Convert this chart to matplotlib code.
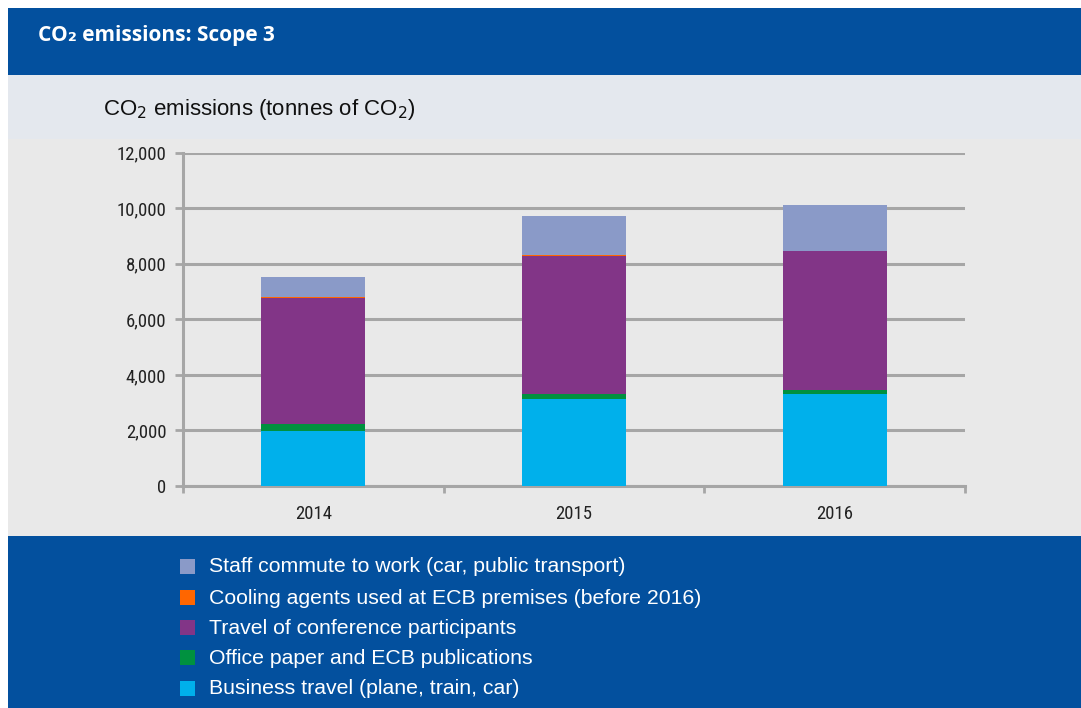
import matplotlib
matplotlib.use("Agg")
import matplotlib.pyplot as plt
from matplotlib.patches import Rectangle
from matplotlib import font_manager as fm
from matplotlib.ticker import FuncFormatter, FixedLocator

years = ["2014", "2015", "2016"]
series_names = [
    "Business travel (plane, train, car)",
    "Office paper and ECB publications",
    "Travel of conference participants",
    "Cooling agents used at ECB premises (before 2016)",
    "Staff commute to work (car, public transport)",
]
business_travel = [1970, 3150, 3300]
office_paper = [280, 180, 150]
conference_travel = [4530, 4960, 5010]
cooling_agents = [20, 10, 0]
staff_commute = [740, 1420, 1640]
series_values = [business_travel, office_paper, conference_travel, cooling_agents, staff_commute]
series_colors = ["#00b0eb", "#00913f", "#823587", "#ff6600", "#8a9ac8"]
y_ticks = [0, 2000, 4000, 6000, 8000, 10000, 12000]

W, H = 1081, 708
fig = plt.figure(figsize=(W / 100, H / 100), dpi=100)
fig.patch.set_facecolor("white")

def px_rect(x0, y0, x1, y1, color, z=-1):
    r = Rectangle((x0 / W, 1 - y1 / H), (x1 - x0) / W, (y1 - y0) / H,
                  transform=fig.transFigure, facecolor=color,
                  edgecolor="none", zorder=z)
    fig.patches.append(r)
    return r

header_blue = "#03509e"
px_rect(8, 8, W, 75, header_blue)
px_rect(8, 75, W, 139, "#e4e8ee")
px_rect(8, 139, W, 536, "#e9e9e9")
px_rect(8, 536, W, H, header_blue)

names = {f.name for f in fm.fontManager.ttflist}
cond = "DejaVu Sans"
for cand in ["Roboto Condensed", "Liberation Sans Narrow", "DejaVu Sans Condensed", "Open Sans Condensed"]:
    if cand in names:
        cond = cand
        break

fig.text(38 / W, 1 - 36 / H, "CO₂ emissions: Scope 3", color="white",
         fontsize=15, fontweight="bold", family=["Open Sans", "DejaVu Sans"],
         va="center", ha="left")
fig.text(103 / W, 1 - 109 / H, "CO$_2$ emissions (tonnes of CO$_2$)", color="#111111",
         fontsize=16, family="Liberation Sans", va="center", ha="left")

ax_l, ax_r, ax_t, ax_b = 183, 965, 152.7, 486
ax = fig.add_axes([ax_l / W, 1 - ax_b / H, (ax_r - ax_l) / W, (ax_b - ax_t) / H])
ax.set_facecolor("none")
ax.set_zorder(1)

x = list(range(len(years)))
bottom = [0] * len(years)
for vals, col, name in zip(series_values, series_colors, series_names):
    ax.bar(x, vals, width=0.4, bottom=bottom, color=col, edgecolor="none", zorder=3, label=name)
    bottom = [b + v for b, v in zip(bottom, vals)]

ax.set_xlim(-0.5, len(years) - 0.5)
ax.set_ylim(0, 12000)
grid_c = "#a6a6a6"
ax.set_yticks(y_ticks)
ax.yaxis.set_major_formatter(FuncFormatter(lambda v, p: f"{int(v):,}"))
ax.grid(axis="y", color=grid_c, linewidth=2.2, zorder=1)
ax.set_axisbelow(True)
for s in ["top", "right"]:
    ax.spines[s].set_visible(False)
for s in ["left", "bottom"]:
    ax.spines[s].set_color(grid_c)
    ax.spines[s].set_linewidth(2.2)
ax.set_xticks(x)
ax.set_xticklabels(years)
ax.xaxis.set_minor_locator(FixedLocator([i - 0.5 for i in range(len(years) + 1)]))
ax.tick_params(axis="x", which="major", length=0, pad=14)
ax.tick_params(axis="x", which="minor", length=5, width=2, color=grid_c, direction="out")
ax.tick_params(axis="y", length=6, width=2, color=grid_c, pad=6)
for lab in ax.get_xticklabels() + ax.get_yticklabels():
    lab.set_family(cond)
    lab.set_fontstretch("condensed")
    lab.set_fontsize(13.5)
    lab.set_color("#222222")

rows_y = [566, 597, 627, 657, 688]
for yy, name, col in zip(rows_y, series_names[::-1], series_colors[::-1]):
    px_rect(180, yy - 7.5, 195, yy + 7.5, col, z=2)
    fig.text(209 / W, 1 - (yy + 1) / H, name, color="white", fontsize=15.3,
             family="Liberation Sans", va="center", ha="left")

fig.savefig("out.png", dpi=100, facecolor=fig.get_facecolor())
